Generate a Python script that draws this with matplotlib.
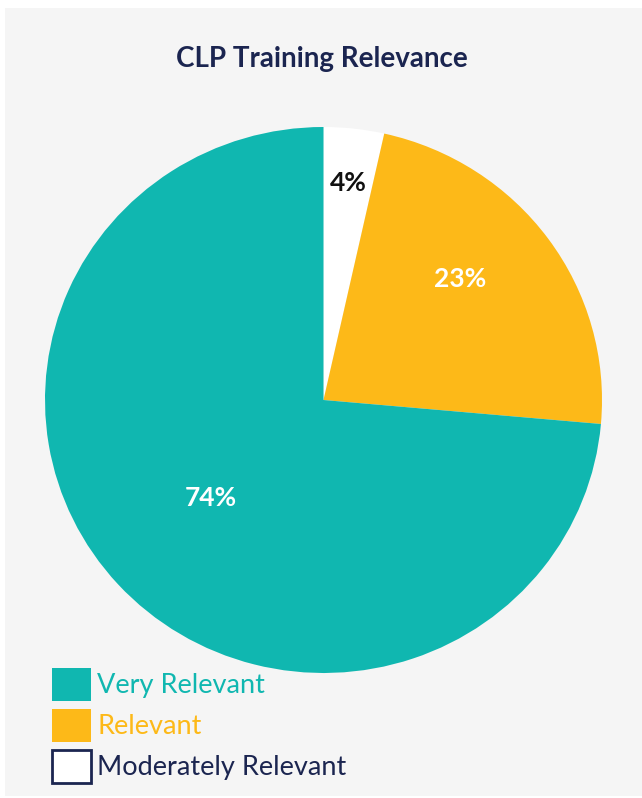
import matplotlib
matplotlib.use("Agg")
import matplotlib.pyplot as plt
from matplotlib.patches import Rectangle, Patch
import numpy as np

plt.rcParams['font.family'] = ['Lato', 'DejaVu Sans']

# Data (clockwise from 12 o'clock)
categories = ["Moderately Relevant", "Relevant", "Very Relevant"]
values = [3.5, 22.9, 73.6]
pct_labels = ["4%", "23%", "74%"]
colors = ["#ffffff", "#fdb918", "#10b7b0"]
label_colors = ["#111111", "#ffffff", "#ffffff"]
label_radius = [0.80, 0.66, 0.54]
label_angle_shift = [0, 6, -1]
legend_order = ["Very Relevant", "Relevant", "Moderately Relevant"]
legend_text_colors = ["#10b7b0", "#fdb918", "#1b2550"]
title = "CLP Training Relevance"

W, H = 642, 798
fig = plt.figure(figsize=(W / 100, H / 100), dpi=100)
fig.patch.set_facecolor("white")
fig.add_artist(Rectangle((5 / W, 2 / H), 1 - 5 / W, (796 - 8) / H,
                         transform=fig.transFigure, facecolor="#f5f5f5",
                         edgecolor="none", zorder=0))

fig.text(322 / W, 1 - 59 / H, title, ha="center", va="center",
         fontsize=20, fontweight="bold", color="#1b2550")

cx, cy, rx, ry = 323.5, 400, 278.5, 273
ax = fig.add_axes([(cx - rx) / W, 1 - (cy + ry) / H, 2 * rx / W, 2 * ry / H])
ax.set_facecolor("none")
wedges, _ = ax.pie(values, colors=colors, startangle=90, counterclock=False,
                   wedgeprops=dict(linewidth=0))
ax.set_aspect("auto")
ax.set_xlim(-1, 1)
ax.set_ylim(-1, 1)
ax.axis("off")

for w, lab, col, r, sh in zip(wedges, pct_labels, label_colors, label_radius,
                              label_angle_shift):
    ang = np.deg2rad((w.theta1 + w.theta2) / 2 + sh)
    ax.text(r * np.cos(ang), r * np.sin(ang), lab, ha="center", va="center",
            fontsize=19, fontweight="bold", color=col)

handle_map = {c: w for c, w in zip(categories, wedges)}
handles = []
for name in legend_order:
    fc = handle_map[name].get_facecolor()
    if name == "Moderately Relevant":
        handles.append(Patch(facecolor="white", edgecolor="#1b2550", linewidth=2))
    else:
        handles.append(Patch(facecolor=fc, edgecolor="none"))

leg = fig.legend(handles, legend_order, loc="lower left",
                 bbox_to_anchor=(52 / W, 15 / H), frameon=False,
                 fontsize=19.5, handlelength=1.45, handleheight=1.5,
                 labelspacing=0.3, handletextpad=0.22, borderaxespad=0,
                 borderpad=0)
for t, c in zip(leg.get_texts(), legend_text_colors):
    t.set_color(c)

fig.savefig("out.png", dpi=100)
